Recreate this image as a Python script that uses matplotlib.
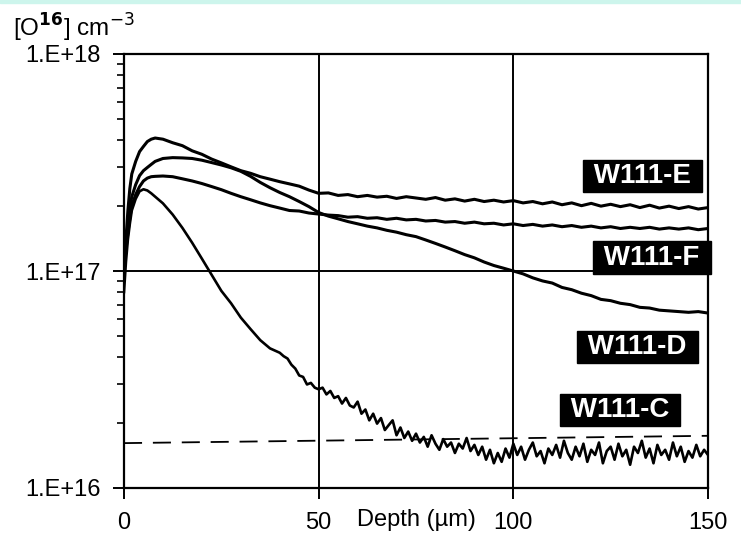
import numpy as np
import matplotlib
matplotlib.use("Agg")
import matplotlib.pyplot as plt
from matplotlib.ticker import LogLocator, FixedLocator, NullFormatter
from matplotlib.patches import Rectangle

plt.rcParams['font.family'] = ['Liberation Sans', 'DejaVu Sans']

# depth grid (um) shared by the smooth profiles
depth = [0, 0.5, 1, 1.5, 2, 3, 4, 5, 6, 7, 8, 10,
         12.5, 15, 17.5, 20, 22.5, 25, 27.5, 30, 32.5, 35, 37.5, 40, 42.5, 45, 47.5,
         50, 52.5, 55, 57.5, 60, 62.5, 65, 67.5, 70, 72.5, 75, 77.5, 80, 82.5, 85, 87.5,
         90, 92.5, 95, 97.5, 100, 102.5, 105, 107.5, 110, 112.5, 115, 117.5, 120, 122.5,
         125, 127.5, 130, 132.5, 135, 137.5, 140, 142.5, 145, 147.5, 150]

# oxygen concentration, units of 1e16 cm^-3
w111_e = [10, 14, 19, 24, 28, 32, 35.5, 37.5, 39.5, 40.5, 41, 40.5,
          39, 37.8, 35.8, 34.5, 32.8, 31.5, 30.2, 29, 28.2, 27.2, 26.5, 25.8, 25.2, 24.6, 23.6,
          22.8, 22.9, 22.3, 22.5, 22.0, 22.3, 21.9, 22.1, 21.6, 22.0, 21.7, 21.4, 21.8, 21.2, 21.5, 21.0,
          21.4, 20.9, 21.2, 20.8, 21.1, 20.6, 20.9, 20.4, 20.8, 20.2, 20.6, 20.0, 20.5, 19.9,
          20.3, 19.8, 20.2, 19.6, 20.1, 19.5, 19.9, 19.4, 19.8, 19.3, 19.6]

w111_d = [10, 13, 16.5, 19.5, 22, 25, 27.5, 29, 30, 31, 32, 33,
          33.3, 33.2, 33.0, 32.4, 31.6, 30.8, 29.9, 28.8, 27.3, 25.6, 24.2, 23.0, 22.0, 20.9, 19.8,
          18.6, 17.9, 17.4, 16.9, 16.5, 16.1, 15.8, 15.4, 15.1, 14.7, 14.4, 13.9, 13.4, 12.9, 12.4, 11.9,
          11.5, 11.0, 10.6, 10.3, 10.0, 9.7, 9.3, 9.0, 8.8, 8.4, 8.2, 7.9, 7.7, 7.4,
          7.3, 7.1, 7.0, 6.8, 6.75, 6.6, 6.55, 6.5, 6.45, 6.5, 6.4]

w111_f = [10, 12.5, 15, 17.5, 20, 22.5, 24.5, 26, 26.8, 27.2, 27.3, 27.4,
          27.2, 26.6, 26.0, 25.3, 24.5, 23.7, 22.8, 22.0, 21.3, 20.6, 20.0, 19.5, 19.0, 18.9, 18.5,
          18.3, 18.1, 18.0, 17.7, 17.8, 17.5, 17.6, 17.3, 17.5, 17.2, 17.3, 17.0, 17.1, 16.8, 16.9, 16.6,
          16.8, 16.5, 16.6, 16.3, 16.5, 16.2, 16.4, 16.1, 16.3, 16.0, 16.2, 15.9, 16.1, 15.8,
          16.0, 15.7, 15.9, 15.7, 15.9, 15.6, 15.8, 15.6, 15.8, 15.5, 15.7]

# W111-C: smooth part, then 1 um steps from 40 um
depth_c = [0, 0.5, 1, 1.5, 2, 3, 4, 5, 6, 7, 8, 10, 12.5, 15, 17.5, 20, 22.5, 25, 27.5,
           30, 32.5, 35, 37.5] + list(range(40, 151))
w111_c = [8, 11, 14, 16.5, 19, 21.5, 23.3, 23.8, 23.5, 22.8, 22.0, 20.5, 18.2, 15.8, 13.5,
          11.4, 9.6, 8.1, 7.1, 6.1, 5.4, 4.8, 4.4,
          4.2, 4.05, 3.95, 3.7, 3.55, 3.3, 3.25, 3.0, 3.05, 2.9,
          2.85, 2.9, 2.7, 2.8, 2.6, 2.65, 2.45, 2.6, 2.4, 2.35,
          2.5, 2.2, 2.3, 2.05, 2.2, 1.98, 2.1, 1.85, 1.95, 2.05,
          1.75, 1.9, 1.7, 1.82, 1.65, 1.78, 1.62, 1.72, 1.55, 1.75,
          1.6, 1.5, 1.68, 1.55, 1.62, 1.45, 1.6, 1.52, 1.7, 1.48,
          1.58, 1.42, 1.55, 1.35, 1.5, 1.3, 1.45, 1.32, 1.52, 1.38,
          1.6, 1.42, 1.55, 1.35, 1.5, 1.62, 1.4, 1.48, 1.3, 1.52,
          1.42, 1.58, 1.38, 1.65, 1.45, 1.35, 1.55, 1.4, 1.6, 1.32,
          1.5, 1.42, 1.62, 1.3, 1.48, 1.55, 1.35, 1.6, 1.4, 1.5,
          1.28, 1.55, 1.45, 1.65, 1.38, 1.52, 1.3, 1.58, 1.42, 1.5,
          1.35, 1.62, 1.4, 1.55, 1.32, 1.48, 1.38, 1.58, 1.4, 1.5,
          1.42]

# dashed reference level
limit_x = [0, 150]
limit_y = [1.61, 1.74]

labels = ['W111-E', 'W111-F', 'W111-D', 'W111-C']
label_pos = [(133.1, 2.74e17), (135.6, 1.15e17), (131.8, 4.47e16), (127.4, 2.29e16)]

fig = plt.figure(figsize=(7.41, 5.39), dpi=100)
fig.patches.append(Rectangle((0, 1 - 3 / 539), 1, 3 / 539, transform=fig.transFigure,
                             color='#cdf5ec', zorder=0))
ax = fig.add_axes([124 / 741, 1 - 488 / 539, 584 / 741, 434 / 539])

scale = 1e16
lw = 2.2
ax.plot(depth, np.array(w111_e) * scale, color='black', lw=lw)
ax.plot(depth, np.array(w111_f) * scale, color='black', lw=lw)
ax.plot(depth, np.array(w111_d) * scale, color='black', lw=lw)
ax.plot(depth_c, np.array(w111_c) * scale, color='black', lw=1.9)
ax.plot(limit_x, np.array(limit_y) * scale, color='black', lw=1.3, ls=(0, (10, 6)))

ax.set_yscale('log')
ax.set_xlim(0, 150)
ax.set_ylim(1e16, 1e18)

ax.xaxis.set_major_locator(FixedLocator([0, 50, 100, 150]))
ax.set_xticklabels(['0', '50', '100', '150'])
ax.yaxis.set_major_locator(FixedLocator([1e16, 1e17, 1e18]))
ax.set_yticklabels(['1.E+16', '1.E+17', '1.E+18'])
ax.yaxis.set_minor_locator(LogLocator(base=10, subs=np.arange(2, 10)))
ax.yaxis.set_minor_formatter(NullFormatter())

ax.grid(True, which='major', color='black', lw=1.4)
ax.tick_params(axis='both', which='major', direction='out', length=8, width=1.4,
               labelsize=17, color='black')
ax.tick_params(axis='y', which='major', pad=9)
ax.tick_params(axis='x', which='major', pad=9)
ax.tick_params(axis='y', which='minor', direction='out', length=5, width=1.2)
ax.tick_params(axis='x', which='minor', length=0)
for sp in ax.spines.values():
    sp.set_linewidth(1.6)

ax.set_xlabel('Depth (µm)', fontsize=17)
ax.xaxis.set_label_coords(0.5, -0.048)

fig.text(13 / 741, 1 - 37 / 539, r'[O$^{\mathbf{16}}$] cm$^{-3}$', fontsize=17.5,
         ha='left', va='baseline')

for lab, (lx, ly) in zip(labels, label_pos):
    ax.text(lx, ly, ' ' + lab + ' ', color='white', fontsize=20, fontweight='bold',
            ha='center', va='center', clip_on=False, zorder=5,
            bbox=dict(boxstyle='square,pad=0.12', fc='black', ec='black'))

fig.savefig('out.png', dpi=100)
